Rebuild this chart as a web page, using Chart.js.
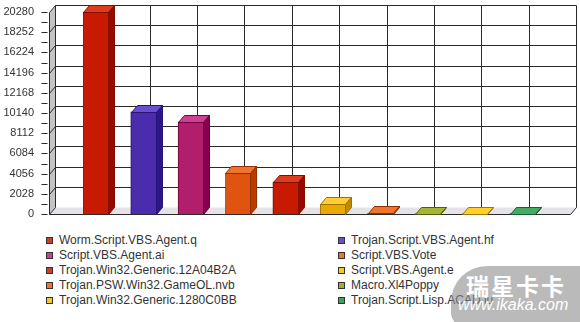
<!DOCTYPE html>
<html><head><meta charset="utf-8">
<script src="https://cdn.jsdelivr.net/npm/chart.js@4/dist/chart.umd.min.js"></script>
<style>
html,body{margin:0;padding:0;background:#fff;}
#wrap{position:relative;width:580px;height:322px;overflow:hidden;font-family:"Liberation Sans",Arial,sans-serif;}
#box{position:absolute;left:0;top:0;width:580px;height:225px;}
.leg{position:absolute;font-size:12px;color:#333;line-height:15px;white-space:nowrap;}
.leg i{position:absolute;width:5px;height:5px;border:1px solid #333;left:-13px;top:4px;}
#wm{position:absolute;left:451px;top:266px;width:140px;height:62px;border-radius:36px 0 0 16px;background:rgba(140,140,140,0.6);}
#wm1{position:absolute;left:466px;top:274px;font:bold 23px "Noto Sans CJK SC",sans-serif;line-height:23px;color:#fff;letter-spacing:2px;}
#wm2{position:absolute;left:458px;top:297px;font:italic 16px "Liberation Sans",Arial,sans-serif;line-height:16px;color:#fff;}
</style></head><body>
<div id="wrap">
<div id="box"><canvas id="c" width="580" height="225"></canvas></div>
<div id="legend"></div>
<div id="wm"></div><div id="wm1">瑞星卡卡</div><div id="wm2">www.ikaka.com</div>
</div>
<script>
// ---- data ----
const categories = ['Worm.Script.VBS.Agent.q','Trojan.Script.VBS.Agent.hf','Script.VBS.Agent.ai','Script.VBS.Vote','Trojan.Win32.Generic.12A04B2A','Script.VBS.Agent.e','Trojan.PSW.Win32.GameOL.nvb','Macro.Xl4Poppy','Trojan.Win32.Generic.1280C0BB','Trojan.Script.Lisp.ACAD.iu'];
const detections = [20260, 10270, 9260, 4080, 3240, 970, 60, 50, 45, 40];
const yMax = 20280;
const yStep = 2028;

// ---- styles ----
const frontColors = ['#c81a00','#4a2cac','#b01e6c','#e05410','#c81a00','#e8aa00','#e85a18','#8a9a20','#f0b800','#2e9650'];
const topColors   = ['#e03c1c','#6a50d0','#d04092','#f07430','#e03c1c','#ffd030','#f07430','#a4b434','#ffd028','#44aa64'];
const sideColors  = ['#980800','#2c168c','#880050','#b83c00','#980800','#c08a00','#b83c00','#6a7a10','#c89800','#1e7a3e'];
const edgeColors  = ['#801000','#281470','#700040','#903000','#801000','#a07000','#903000','#505e10','#a07800','#186030'];
const legendColors= ['#d04020','#6a50d0','#d04092','#f07430','#d04020','#f8c820','#f07430','#a0b030','#f8c820','#40a060'];

const DX = 6, DY = 7;
const AREA = {left:49, right:570, top:12, bottom:214};
const labels = [''].concat(categories, ['']);
const values = [null].concat(detections, [null]);

function poly(ctx, pts, fill, stroke){
  ctx.beginPath();
  ctx.moveTo(pts[0][0], pts[0][1]);
  for (let i=1;i<pts.length;i++) ctx.lineTo(pts[i][0], pts[i][1]);
  ctx.closePath();
  if (fill){ ctx.fillStyle = fill; ctx.fill(); }
  if (stroke){ ctx.strokeStyle = stroke; ctx.lineWidth = 1; ctx.stroke(); }
}
function line(ctx, x1,y1,x2,y2){ ctx.beginPath(); ctx.moveTo(x1,y1); ctx.lineTo(x2,y2); ctx.stroke(); }
const h = v => Math.round(v) + 0.5;

const frame3D = {
  id:'frame3D',
  beforeDatasetsDraw(chart){
    const ctx = chart.ctx, a = chart.chartArea, x = chart.scales.x, y = chart.scales.y;
    const L = h(a.left), R = h(a.right), T = h(y.getPixelForValue(yMax)), B = h(y.getPixelForValue(0));
    ctx.save();
    poly(ctx, [[L,B],[L,T],[L+DX,T-DY],[L+DX,B-DY]], '#c4c4c4', null);
    poly(ctx, [[L,B],[R,B],[R+DX,B-DY],[L+DX,B-DY]], '#e6e3e8', null);
    ctx.strokeStyle = '#2a2a2a'; ctx.lineWidth = 1;
    const ticks = y.ticks.map(t => t.value);
    ticks.forEach(v => {
      const py = h(y.getPixelForValue(v));
      if (v > 0) line(ctx, L+DX, py-DY, R+DX, py-DY);
      line(ctx, L, py, L+DX, py-DY);
      line(ctx, L-8, py, L-2, py);
    });
    for (let i=0;i<ticks.length-1;i++){
      const py = h(y.getPixelForValue((ticks[i]+ticks[i+1])/2));
      line(ctx, L-8, py, L-2, py);
    }
    for (let i=0;i<labels.length;i++){
      const px = h(x.getPixelForValue(i)) + DX;
      line(ctx, px, T-DY, px, B-DY);
    }
    line(ctx, L, T, L, B);
    line(ctx, L, B, R, B);
    line(ctx, R, B, R+DX, B-DY);
    ctx.restore();
  },
  afterDatasetsDraw(chart){
    const ctx = chart.ctx;
    const meta = chart.getDatasetMeta(0);
    ctx.save();
    meta.data.forEach((bar, i) => {
      if (values[i] == null) return;
      const p = bar.getProps(['x','y','base','width'], true);
      const l = h(p.x - p.width/2), r = h(p.x + p.width/2) - 1, t = h(p.y), b = h(p.base);
      const k = i - 1;
      poly(ctx, [[l,t],[r,t],[r+DX,t-DY],[l+DX,t-DY]], topColors[k], edgeColors[k]);
      poly(ctx, [[r,t],[r,b],[r+DX,b-DY],[r+DX,t-DY]], sideColors[k], edgeColors[k]);
    });
    ctx.restore();
  }
};

const chart = new Chart(document.getElementById('c'), {
  type:'bar',
  data:{
    labels: labels,
    datasets:[{
      data: values,
      backgroundColor: [null].concat(frontColors, [null]),
      borderColor: [null].concat(edgeColors, [null]),
      borderWidth: 1,
      barThickness: 26
    }]
  },
  options:{
    responsive:false,
    animation:false,
    events:[],
    layout:{padding:{top:12,right:10,bottom:11,left:0}},
    plugins:{legend:{display:false},tooltip:{enabled:false}},
    scales:{
      x:{display:false, offset:false, grid:{display:false}},
      y:{
        min:0, max:yMax,
        afterFit: s => { s.width = 49; s.paddingTop = 0; s.paddingBottom = 0; },
        border:{display:false},
        grid:{display:false, drawTicks:false},
        ticks:{stepSize:yStep, padding:15, color:'#333',
          font:{family:'"Liberation Sans", Arial, sans-serif', size:11},
          callback: v => String(v)}
      }
    }
  },
  plugins:[frame3D]
});

// align the plot area with the reference frame
for (let k = 0; k < 4; k++) {
  const a = chart.chartArea, p = chart.options.layout.padding;
  const dt = AREA.top - a.top, db = a.bottom - AREA.bottom, dl = AREA.left - a.left, dr = a.right - AREA.right;
  if (!dt && !db && !dl && !dr) break;
  p.top += dt; p.bottom += db; p.left += dl; p.right += dr;
  chart.update();
}

// ---- legend (row-major, two columns) ----
const lg = document.getElementById('legend');
categories.forEach((name, i) => {
  const col = i % 2, row = Math.floor(i / 2);
  const d = document.createElement('div');
  d.className = 'leg';
  d.style.left = (col ? 351 : 59) + 'px';
  d.style.top = (233 + row * 15.1) + 'px';
  const sw = document.createElement('i');
  sw.style.background = legendColors[i];
  d.appendChild(sw);
  d.appendChild(document.createTextNode(name));
  lg.appendChild(d);
});
</script>
</body></html>
